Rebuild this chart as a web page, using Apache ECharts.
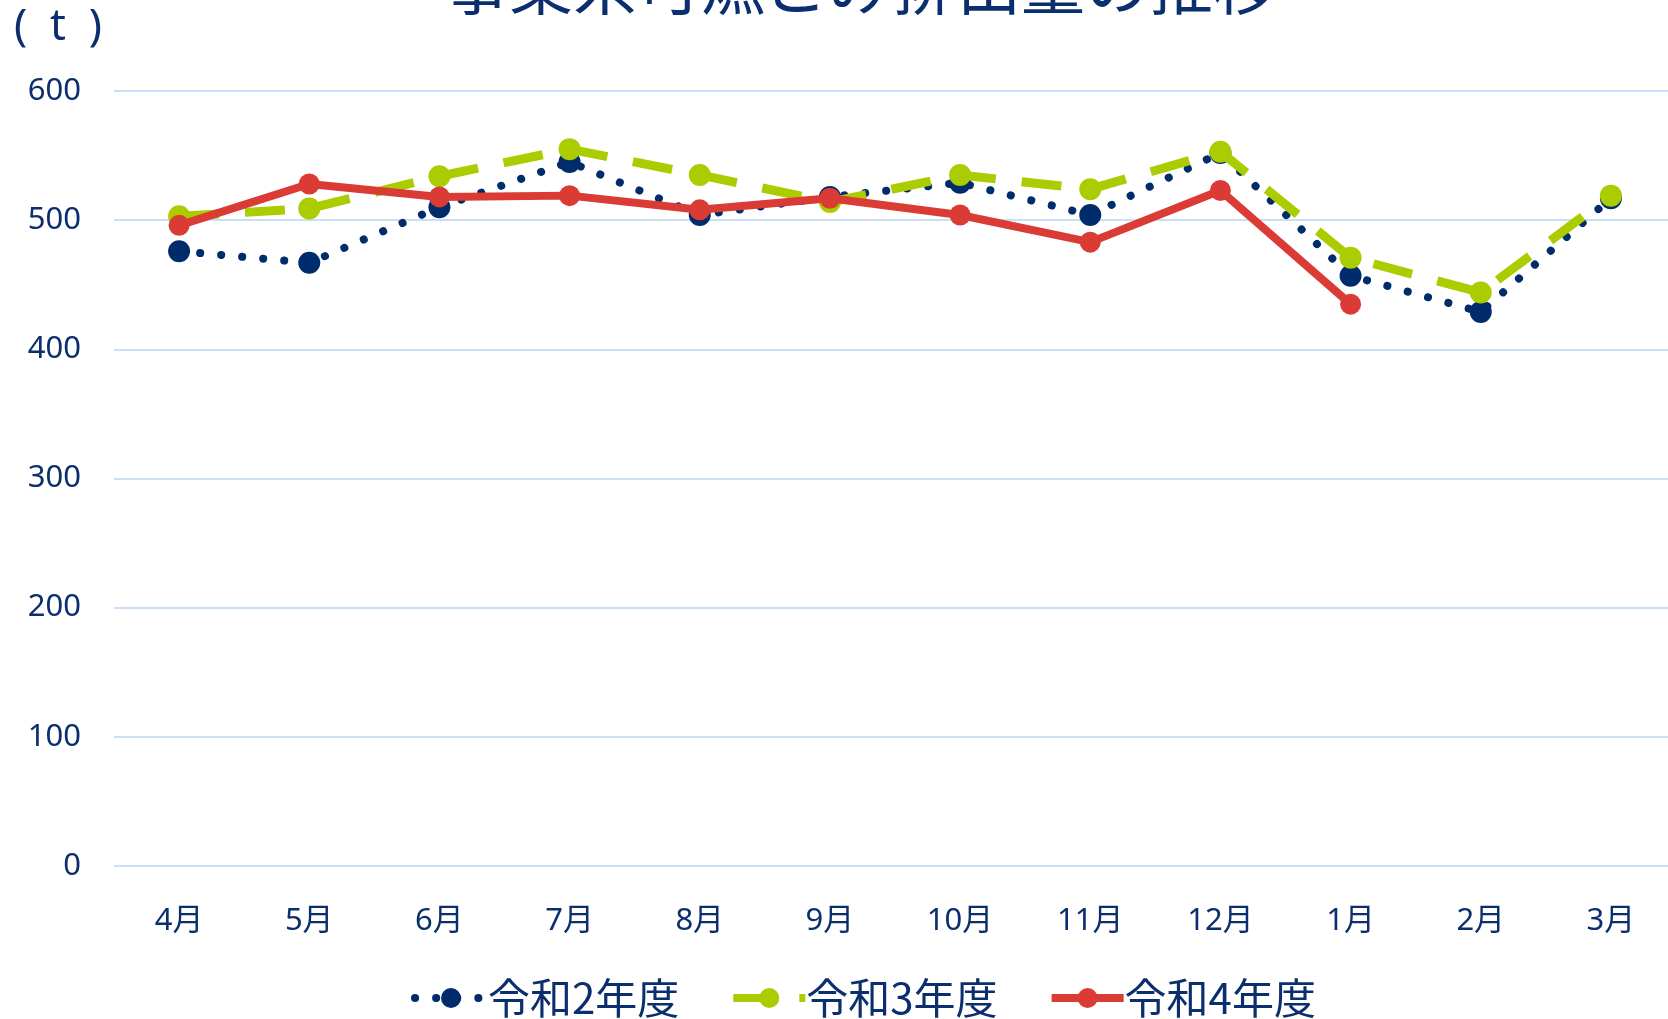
<!DOCTYPE html>
<html>
<head>
<meta charset="utf-8">
<script src="https://cdn.jsdelivr.net/npm/echarts@6/dist/echarts.min.js"></script>
<style>
html,body{margin:0;padding:0;background:#fff;}
#chart{width:1668px;height:1019px;}
</style>
</head>
<body>
<div id="chart"></div>
<script>
const titleText = '事業系可燃ごみ排出量の推移';
const unitLabel = '(  t  )';
const months = ['4月','5月','6月','7月','8月','9月','10月','11月','12月','1月','2月','3月'];
const seriesNames = ['令和2年度','令和3年度','令和4年度'];
const r2 = [476, 467, 510, 545, 504, 518, 529, 504, 552, 457, 429, 517];
const r3 = [503, 509, 534, 555, 535, 514, 535, 524, 553, 471, 444, 519];
const r4 = [496, 528, 518, 519, 508, 517, 504, 483, 523, 435, null, null];
const yTicks = {min: 0, max: 600, interval: 100};

const navy = '#002c6b';
const green = '#aacc00';
const red = '#da3b34';
const textColor = '#0b2f6e';
const fontFamily = '"Noto Sans","Noto Sans CJK JP",sans-serif';
const cjkFont = '"Noto Sans CJK JP","Noto Sans",sans-serif';

const chart = echarts.init(document.getElementById('chart'));
chart.setOption({
  backgroundColor: '#ffffff',
  animation: false,
  title: {
    text: titleText,
    left: 440,
    top: -52,
    textStyle: {color: textColor, fontSize: 64, fontWeight: 'normal', fontFamily: cjkFont}
  },
  graphic: [{
    type: 'text',
    left: 14,
    top: 5,
    style: {text: unitLabel, fill: textColor, fontSize: 44, fontFamily: fontFamily}
  }],
  legend: {
    bottom: -5,
    left: 406,
    itemWidth: 72,
    itemHeight: 25,
    itemGap: 50,
    lineStyle: {width: 8},
    textStyle: {color: textColor, fontSize: 42, fontFamily: cjkFont, padding: [0, 0, 0, -4]},
    data: seriesNames
  },
  grid: {left: 114, width: 1562, top: 91, bottom: 153, containLabel: false, outerBoundsMode: 'none'},
  xAxis: {
    type: 'category',
    data: months,
    boundaryGap: true,
    axisLine: {show: false},
    axisTick: {show: false},
    axisLabel: {color: textColor, fontSize: 31, fontFamily: fontFamily, margin: 40}
  },
  yAxis: {
    type: 'value',
    min: yTicks.min,
    max: yTicks.max,
    interval: yTicks.interval,
    axisLine: {show: false},
    axisTick: {show: false},
    axisLabel: {color: textColor, fontSize: 31, fontFamily: fontFamily, margin: 33},
    splitLine: {lineStyle: {color: '#c9dff7', width: 2}}
  },
  series: [
    {
      name: seriesNames[0], type: 'line', data: r2,
      symbol: 'circle', symbolSize: 22,
      itemStyle: {color: navy},
      lineStyle: {color: navy, width: 8, type: [0.1, 21], cap: 'round'},
      z: 2
    },
    {
      name: seriesNames[1], type: 'line', data: r3,
      symbol: 'circle', symbolSize: 22,
      itemStyle: {color: green},
      lineStyle: {color: green, width: 9, type: [40, 26], cap: 'butt'},
      z: 3
    },
    {
      name: seriesNames[2], type: 'line', data: r4,
      symbol: 'circle', symbolSize: 21,
      itemStyle: {color: red},
      lineStyle: {color: red, width: 8, type: 'solid'},
      z: 4
    }
  ]
});
</script>
</body>
</html>
